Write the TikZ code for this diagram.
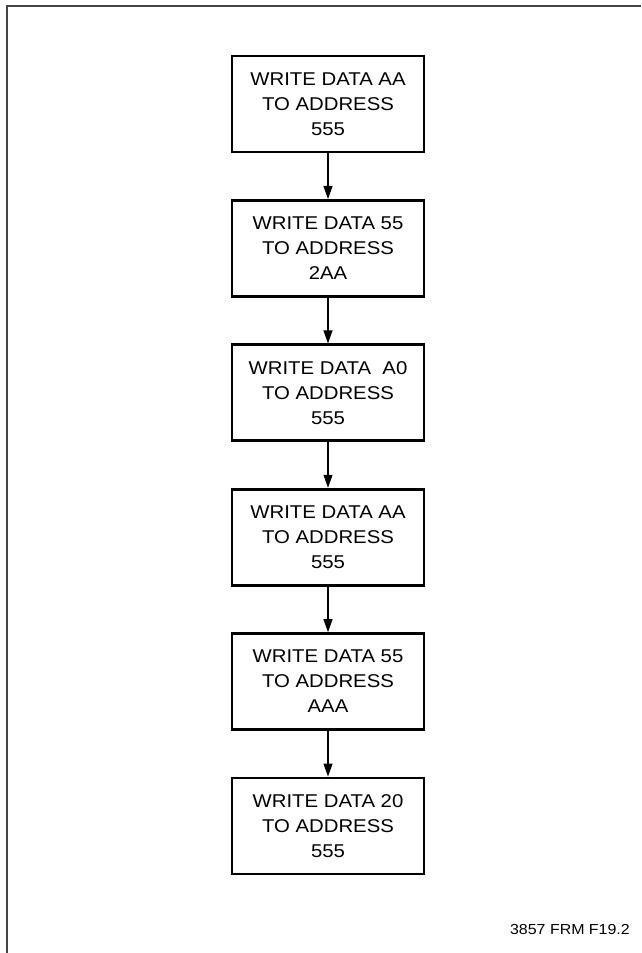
\documentclass[tikz,border=0pt]{standalone}
\usepackage{fontspec}
\usetikzlibrary{arrows.meta}
\newfontfamily\boxfont{Liberation Sans}[FakeStretch=1.1]
\definecolor{framegray}{RGB}{68,68,68}

\begin{document}
\begin{tikzpicture}[x=1pt, y=1pt,
  stepbox/.style={draw=black, line width=2.8pt, minimum width=192pt, minimum height=96pt,
    inner sep=0pt, align=center, font=\boxfont\fontsize{18.5}{25}\selectfont},
  flow/.style={-{Triangle[length=13pt, width=9pt]}, line width=1.1pt}]

  \useasboundingbox (0,0) rectangle (641,953);

  % frame
  \draw [framegray, line width=2pt] (7,0) -- (7,947) -- (641,947);

  \def\xmid{328}
  \def\ytop{849}
  \def\ystep{144.4}

  \foreach \i/\txt in {1/{WRITE DATA AA\\TO ADDRESS\\555},
                       2/{WRITE DATA 55\\TO ADDRESS\\2AA},
                       3/{WRITE DATA~~A0\\TO ADDRESS\\555},
                       4/{WRITE DATA AA\\TO ADDRESS\\555},
                       5/{WRITE DATA 55\\TO ADDRESS\\AAA},
                       6/{WRITE DATA 20\\TO ADDRESS\\555}} {
    \node [stepbox] (box\i) at (\xmid, {\ytop-\ystep*(\i-1)}) {\txt};
  }

  \foreach \i/\j in {1/2,2/3,3/4,4/5,5/6} {
    \draw [flow] (box\i.south) -- (box\j.north);
  }

  \node [anchor=base east, inner sep=0pt, font=\boxfont\fontsize{14.5}{17}\selectfont] (figlabel) at (630,18) {3857 FRM F19.2};

\end{tikzpicture}
\end{document}
